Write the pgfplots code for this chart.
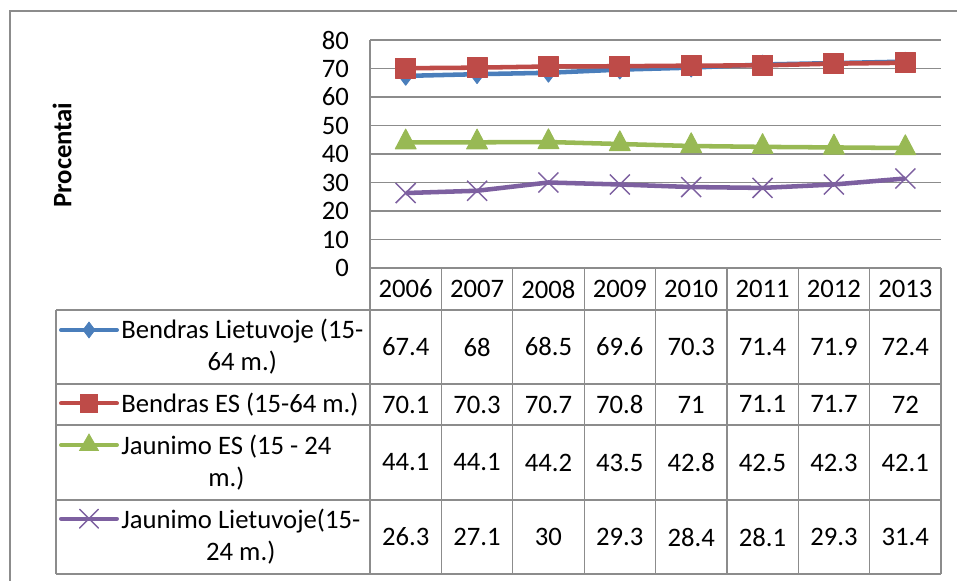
\documentclass[border=0pt]{standalone}
\usepackage{pgfplots}
\pgfplotsset{compat=1.18}
\usepackage{fontspec}
\setmainfont{Carlito}
\definecolor{sblue}{HTML}{4A7EBB}
\definecolor{sred}{HTML}{BE4B48}
\definecolor{sgreen}{HTML}{98B954}
\definecolor{spurple}{HTML}{7D60A0}
\definecolor{gridgray}{HTML}{8C8C8C}
\newcommand{\tfont}{\fontsize{20}{24}\selectfont}
\begin{document}
\begin{tikzpicture}
\begin{scope}[x=0.75pt,y=0.75pt]
\useasboundingbox (0,0) rectangle (957,581);
\draw[gridgray, line width=1.5pt] (10,-20) -- (10,570) -- (990,570);
\end{scope}
\begin{axis}[
  at={(277.5pt,234.75pt)}, anchor=south west,
  width=428.25pt, height=171pt, scale only axis,
  xmin=-0.5, xmax=7.5, ymin=0, ymax=80,
  ytick={0,10,...,80},
  xtick={0,...,7},
  xticklabels={2006,2007,2008,2009,2010,2011,2012,2013},
  xticklabel style={anchor=center, yshift=-15.75pt},
  yticklabel style={anchor=east, xshift=-12.25pt},
  tick label style={font=\tfont},
  /pgf/number format/assume math mode=true,
  major tick length=0pt,
  axis x line*=bottom, axis y line*=left,
  axis line style={gridgray, line width=0.9pt, -},
  ymajorgrids, grid style={gridgray, line width=0.9pt},
  ylabel={Procentai},
  ylabel style={at={(rel axis cs:-0.539,0.4956)}, anchor=center, font=\bfseries\tfont},
  clip=false,
]
\addplot[sblue, line width=3.4pt, line join=round, mark=diamond*, mark size=7pt, mark options={line width=0.75pt}] coordinates {
(0,67.4) (1,68) (2,68.5) (3,69.6) (4,70.3) (5,71.4) (6,71.9) (7,72.4)};
\addplot[sred, line width=3.4pt, line join=round, mark=square*, mark size=7.5pt, mark options={line width=0.75pt}] coordinates {
(0,70.1) (1,70.3) (2,70.7) (3,70.8) (4,71) (5,71.1) (6,71.7) (7,72)};
\addplot[sgreen, line width=3.4pt, line join=round, mark=triangle*, mark size=9pt, mark options={line width=0.75pt, yscale=1.1}] coordinates {
(0,44.1) (1,44.1) (2,44.2) (3,43.5) (4,42.8) (5,42.5) (6,42.3) (7,42.1)};
\addplot[spurple, line width=3.4pt, line join=round, mark=x, mark size=10.6pt, mark options={line width=1.1pt}] coordinates {
(0,26.3) (1,27.1) (2,30) (3,29.3) (4,28.4) (5,28.1) (6,29.3) (7,31.4)};
% legend samples inside the table
\addplot[forget plot, sblue, line width=3pt, line cap=round, mark=diamond*, mark size=6pt, mark indices={2}, mark options={line width=0.5pt}] coordinates {(-4.829,-21.75) (-4.437,-21.75) (-4.045,-21.75)};
\addplot[forget plot, sred, line width=3pt, line cap=round, mark=square*, mark size=6.4pt, mark indices={2}, mark options={line width=0.5pt}] coordinates {(-4.829,-47.5) (-4.437,-47.5) (-4.045,-47.5)};
\addplot[forget plot, sgreen, line width=3pt, line cap=round, mark=triangle*, mark size=8.25pt, mark indices={2}, mark options={line width=0.5pt}] coordinates {(-4.829,-62.1) (-4.437,-62.1) (-4.045,-62.1)};
\addplot[forget plot, spurple, line width=3pt, line cap=round, mark=x, mark size=10pt, mark indices={2}, mark options={line width=1pt}] coordinates {(-4.829,-87.96) (-4.437,-87.96) (-4.045,-87.96)};
\end{axis}
\begin{scope}[x=0.75pt,y=0.75pt]
\begin{scope}[gridgray, line width=0.9pt]
\foreach \yy in {271,197,156,81,7} \draw (56,\yy) -- (941,\yy);
\draw (56,271) -- (56,7);
\foreach \xx in {370,441.4,512.8,584.1,655.5,726.9,798.3,869.6,941} \draw (\xx,313) -- (\xx,7);
\end{scope}
\begin{scope}[font=\tfont]
\node[anchor=west, inner sep=0pt, align=center] at (121,234) {Bendras Lietuvoje (15-\\64 m.)};
\node[anchor=west, inner sep=0pt, align=center] at (121,176.5) {Bendras ES (15-64 m.)};
\node[anchor=west, inner sep=0pt, align=center] at (121,118.5) {Jaunimo ES (15 - 24\\m.)};
\node[anchor=west, inner sep=0pt, align=center] at (121,44) {Jaunimo Lietuvoje(15-\\24 m.)};
\foreach \v [count=\i from 0] in {67.4,68,68.5,69.6,70.3,71.4,71.9,72.4}
  \node at ({405.7+71.375*\i},234) {\v};
\foreach \v [count=\i from 0] in {70.1,70.3,70.7,70.8,71,71.1,71.7,72}
  \node at ({405.7+71.375*\i},176.5) {\v};
\foreach \v [count=\i from 0] in {44.1,44.1,44.2,43.5,42.8,42.5,42.3,42.1}
  \node at ({405.7+71.375*\i},118.5) {\v};
\foreach \v [count=\i from 0] in {26.3,27.1,30,29.3,28.4,28.1,29.3,31.4}
  \node at ({405.7+71.375*\i},44) {\v};
\end{scope}
\end{scope}
\end{tikzpicture}
\end{document}
